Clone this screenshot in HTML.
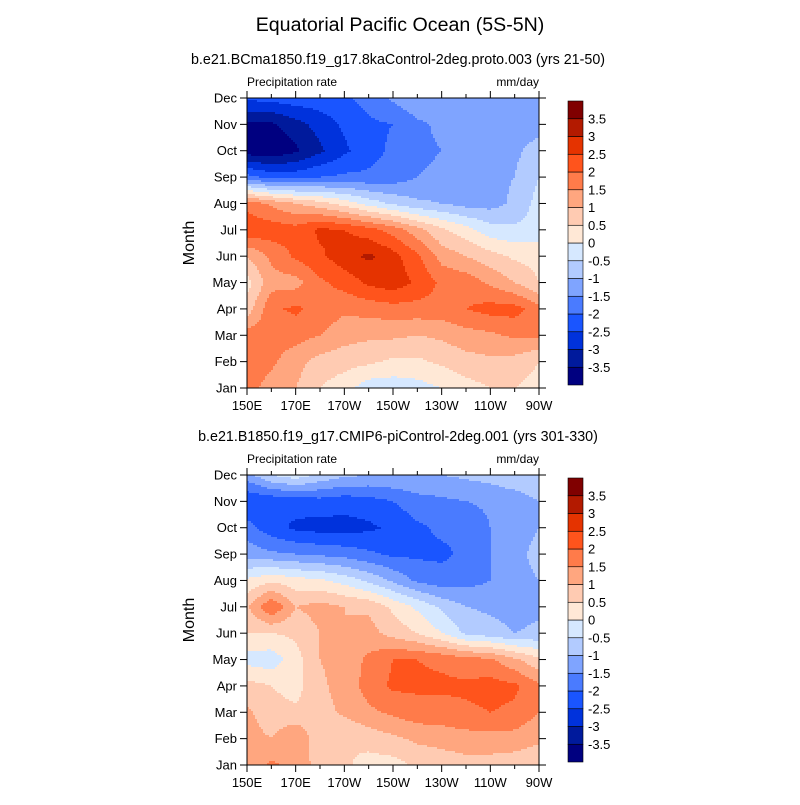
<!DOCTYPE html>
<html><head><meta charset="utf-8"><style>
body{margin:0;background:#fff}
svg text{font-family:"Liberation Sans",Arial,sans-serif;fill:#000}
</style></head><body>
<svg id="s" width="800" height="800" xmlns="http://www.w3.org/2000/svg">
<rect width="800" height="800" fill="#fff"/>
<text x="400" y="31" font-size="19.6" text-anchor="middle">Equatorial Pacific Ocean (5S-5N)</text>
</svg>
<script>
const months=["Jan","Feb","Mar","Apr","May","Jun","Jul","Aug","Sep","Oct","Nov","Dec"];
const lonLabels=["150E","170E","170W","150W","130W","110W","90W"];
const levels=[-3.5,-3,-2.5,-2,-1.5,-1,-0.5,0,0.5,1,1.5,2,2.5,3,3.5];
const colors=["#000080","#001a9c","#0032dc","#1a55ff","#4a7bff","#7fa4ff","#b2cbff","#d6e8ff","#ffe8d6","#ffcbb2","#ffa67f","#ff7b4a","#ff541c","#e53300","#b31a00","#800000"];
const titleTop="b.e21.BCma1850.f19_g17.8kaControl-2deg.proto.003 (yrs 21-50)";
const titleBot="b.e21.B1850.f19_g17.CMIP6-piControl-2deg.001 (yrs 301-330)";
// rows Jan..Dec, cols 150E,160E,...,90W (every 10 deg)
const dataTop=[
[1.7,1.3,1.0,0.5,0.2,-0.3,-0.3,-0.2,0.0,0.3,0.5,0.5,0.3],
[1.8,1.6,1.2,0.8,0.7,0.6,0.4,0.4,0.6,0.8,0.9,0.8,0.5],
[1.8,1.7,1.7,1.5,1.2,1.1,1.1,1.0,1.1,1.3,1.4,1.6,1.6],
[0.7,1.9,2.1,1.8,1.6,1.7,1.8,1.8,1.8,2.0,2.2,2.2,1.7],
[0.3,1.3,1.3,1.9,2.2,2.6,2.8,2.4,1.9,1.8,1.4,1.0,0.5],
[1.0,1.6,2.1,2.4,2.8,3.1,2.7,2.1,1.3,1.0,0.7,0.4,0.3],
[2.4,2.3,2.2,2.6,2.5,2.2,1.8,1.2,0.6,0.2,-0.3,-0.4,-0.3],
[1.8,1.4,1.0,0.7,0.3,-0.2,-0.6,-0.9,-1.0,-1.2,-1.2,-0.9,-0.3],
[-1.8,-2.2,-2.2,-2.0,-1.9,-1.9,-1.8,-1.5,-1.4,-1.3,-1.1,-1.0,-0.5],
[-3.8,-3.9,-3.6,-3.1,-2.6,-2.2,-1.9,-1.6,-1.5,-1.4,-1.3,-1.1,-0.8],
[-3.6,-3.6,-3.2,-2.8,-2.4,-2.1,-2.0,-1.6,-1.4,-1.4,-1.3,-1.2,-1.2],
[-2.4,-2.3,-2.2,-2.2,-2.1,-1.8,-1.4,-1.1,-1.0,-1.0,-1.0,-1.0,-1.0]];
const dataBot=[
[1.2,1.6,1.3,0.8,0.6,0.3,0.3,0.6,0.7,0.8,0.8,0.7,0.6],
[1.2,1.0,1.5,0.6,0.5,0.7,0.9,1.1,1.2,1.3,1.3,1.3,1.1],
[1.1,0.7,0.6,0.8,1.1,1.4,1.6,1.8,1.8,1.9,2.0,1.9,1.5],
[0.7,0.5,0.3,0.9,1.2,1.7,2.1,2.1,2.1,2.1,2.2,2.1,1.6],
[-0.2,-0.3,0.3,1.0,1.2,1.6,2.0,2.0,1.9,1.7,1.6,1.1,0.6],
[0.5,0.5,0.6,1.0,1.0,1.2,0.8,0.5,0.0,-0.6,-0.8,-1.0,-0.9],
[0.9,2.0,1.0,1.2,1.0,0.9,0.4,-0.1,-0.6,-1.0,-1.1,-1.2,-1.1],
[0.1,0.4,0.2,0.1,-0.2,-0.6,-1.1,-1.6,-1.8,-1.7,-1.5,-1.2,-1.0],
[-1.2,-1.4,-1.5,-1.6,-1.7,-1.9,-2.1,-2.1,-2.1,-1.9,-1.5,-1.2,-0.8],
[-1.8,-2.3,-2.6,-2.7,-2.7,-2.6,-2.4,-2.1,-1.9,-1.9,-1.5,-1.3,-1.0],
[-2.5,-2.4,-2.3,-2.2,-2.3,-2.2,-2.0,-1.7,-1.6,-1.5,-1.4,-1.3,-1.0],
[-1.2,-0.5,-0.2,-0.6,-0.9,-1.0,-1.0,-1.0,-1.0,-0.9,-0.8,-0.6,-0.5]];

const NS="http://www.w3.org/2000/svg";
const svg=document.getElementById('s');
function mk(t,a,p){const e=document.createElementNS(NS,t);for(const k in a)e.setAttribute(k,a[k]);(p||svg).appendChild(e);return e;}
function colorFor(v){let i=0;while(i<levels.length&&v>=levels[i])i++;return colors[i];}
const X0=247,X1=539;
function drawPanel(data,top,title,name){
  const Y0=top,Y1=top+290;
  const g=mk('g',{});
  
  
  const nc=data[0].length,nr=data.length;
  const xs=i=>X0+i*(X1-X0)/(nc-1);
  const ys=m=>Y1-m*(Y1-Y0)/(nr-1);
  const st=2;
  const ncol=Math.ceil((X1-X0)/st), nrow=Math.ceil((Y1-Y0)/st);
  for(let r=0;r<nrow;r++){
    const py=Y0+r*st;
    const ph=Math.min(st,Y1-py);
    const fm=Math.max(0,(Y1-(py+ph/2))/(Y1-Y0)*(nr-1));
    const m0=Math.min(nr-2,Math.floor(fm)),tm=fm-m0;
    let runStart=X0,runCol=null;
    for(let c=0;c<=ncol;c++){
      const px=X0+c*st;
      let col=null;
      if(c<ncol){
        const pw=Math.min(st,X1-px);
        const fi=(px+pw/2-X0)/(X1-X0)*(nc-1);
        const i0=Math.min(nc-2,Math.floor(fi)),ti=fi-i0;
        const v=(1-tm)*((1-ti)*data[m0][i0]+ti*data[m0][i0+1])+tm*((1-ti)*data[m0+1][i0]+ti*data[m0+1][i0+1]);
        col=colorFor(v);
      }
      if(col!==runCol){
        if(runCol){
          const end=Math.min(px,X1);
          const rc=mk('rect',{x:runStart,y:py,width:end-runStart+(end<X1?0.5:0),height:ph+(py+ph<Y1?0.5:0),fill:runCol},g);
          
          
        }
        runStart=px;runCol=col;
      }
    }
  }
  mk('rect',{x:X0,y:Y0,width:X1-X0,height:Y1-Y0,fill:'none',stroke:'#000','stroke-width':1});
  for(let m=0;m<nr;m++){
    const y=ys(m);
    mk('line',{x1:X0-7,x2:X0,y1:y,y2:y,stroke:'#000'});
    mk('line',{x1:X1,x2:X1+7,y1:y,y2:y,stroke:'#000'});
    const t=mk('text',{x:X0-10,y:y+4.5,'font-size':13,'text-anchor':'end'});t.textContent=months[m];
    
    
  }
  for(let i=0;i<nc;i++){
    const x=xs(i),L=i%2==0?7:4;
    mk('line',{x1:x,x2:x,y1:Y0-L,y2:Y0,stroke:'#000'});
    mk('line',{x1:x,x2:x,y1:Y1,y2:Y1+L,stroke:'#000'});
    if(i%2==0){const t=mk('text',{x:x,y:Y1+22,'font-size':13,'text-anchor':'middle'});t.textContent=lonLabels[i/2];
      
      }
  }
  let t=mk('text',{x:398,y:Y0-34,'font-size':14.3,'text-anchor':'middle'});t.textContent=title;
  
  t=mk('text',{x:X0,y:Y0-12,'font-size':12});t.textContent="Precipitation rate";
  
  t=mk('text',{x:X1,y:Y0-12,'font-size':12,'text-anchor':'end'});t.textContent="mm/day";
  
  t=mk('text',{x:0,y:0,'font-size':16,'text-anchor':'middle',transform:`translate(194,${(Y0+Y1)/2}) rotate(-90)`});t.textContent="Month";
  
  const cb=mk('g',{});
  
  
  const cy0=Y0+3,cy1=Y1-3,h=(cy1-cy0)/colors.length;
  colors.forEach((c,k)=>{
    const r=mk('rect',{x:568,y:cy1-(k+1)*h,width:15,height:h,fill:c,stroke:'#000','stroke-width':0.6},cb);
    
  });
  levels.forEach((lv,k)=>{
    const tt=mk('text',{x:588,y:cy1-(k+1)*h+4.5,'font-size':13},cb);tt.textContent=String(lv);
    
  });
}
drawPanel(dataTop,98,titleTop,'top-panel');
drawPanel(dataBot,475,titleBot,'bottom-panel');
</script>
</body></html>
